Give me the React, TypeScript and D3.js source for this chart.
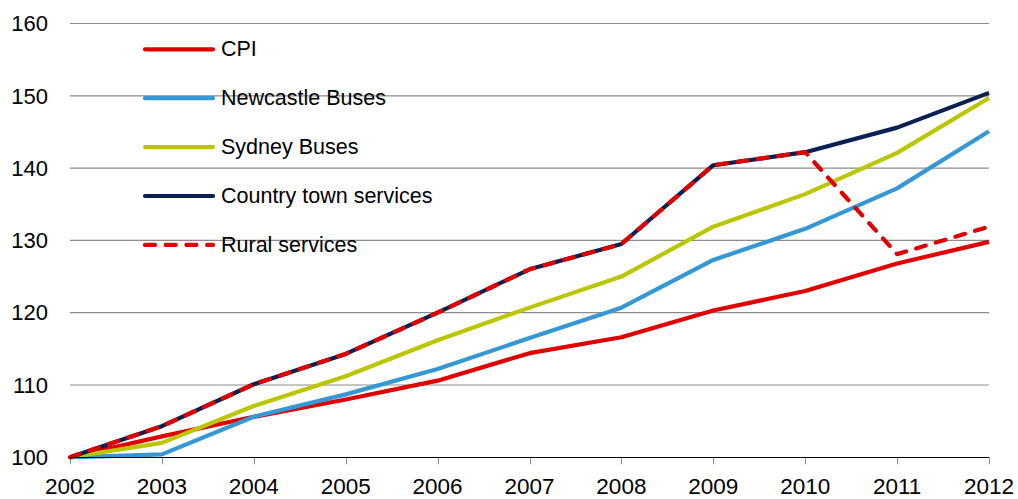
import React from "react";
import * as d3 from "d3";

const years = [2002, 2003, 2004, 2005, 2006, 2007, 2008, 2009, 2010, 2011, 2012];
const cpi = [100, 102.9, 105.6, 108.0, 110.6, 114.4, 116.6, 120.3, 123.0, 126.8, 129.8];
const newcastle = [100, 100.4, 105.6, 108.7, 112.2, 116.5, 120.7, 127.3, 131.6, 137.2, 145.1];
const sydney = [100, 102.0, 107.1, 111.2, 116.2, 120.7, 125.0, 131.9, 136.4, 142.1, 149.7];
const country = [100, 104.3, 110.1, 114.3, 120.0, 126.0, 129.5, 140.4, 142.2, 145.6, 150.4];
const rural = [100, 104.3, 110.1, 114.3, 120.0, 126.0, 129.5, 140.4, 142.2, 128.1, 131.9];
const yTicks = [100, 110, 120, 130, 140, 150, 160];

const series = [
  { name: "CPI", values: cpi, color: "#E00000", dash: false },
  { name: "Newcastle Buses", values: newcastle, color: "#3598D4", dash: false },
  { name: "Sydney Buses", values: sydney, color: "#BAC600", dash: false },
  { name: "Country town services", values: country, color: "#0B2050", dash: false },
  { name: "Rural services", values: rural, color: "#E00000", dash: true },
];

const W = 1018;
const H = 499;
const FONT = "Liberation Sans, Arial, sans-serif";

export default function App() {
  const x = d3.scaleLinear().domain([2002, 2012]).range([70, 989]);
  const y = d3.scaleLinear().domain([100, 160]).range([457.3, 23.5]);
  const line = d3
    .line<number>()
    .x((_, i) => x(years[i]))
    .y((d) => y(d));

  return (
    <svg
      width={W}
      height={H}
      style={{ position: "absolute", left: 0, top: 0, background: "#fff" }}
      fontFamily={FONT}
    >
      {yTicks.map((t) =>
        t === 100 ? null : (
          <line
            key={"g" + t}
            x1={x(2002)}
            x2={x(2012)}
            y1={y(t)}
            y2={y(t)}
            stroke="#8c8c8c"
            strokeWidth={1.2}
          />
        )
      )}
      {yTicks.map((t) => (
        <text
          key={"yl" + t}
          x={48}
          y={y(t)}
          dy="0.35em"
          textAnchor="end"
          fontSize={22}
          fill="#000"
        >
          {t}
        </text>
      ))}
      {years.map((yr) => (
        <line
          key={"t" + yr}
          x1={Math.round(x(yr)) + 0.5}
          x2={Math.round(x(yr)) + 0.5}
          y1={y(100)}
          y2={y(100) + 7}
          stroke="#8a8a8a"
          strokeWidth={1}
        />
      ))}
      {years.map((yr) => (
        <text
          key={"xl" + yr}
          x={x(yr)}
          y={494}
          textAnchor="middle"
          fontSize={22.5}
          fill="#000"
        >
          {yr}
        </text>
      ))}
      {series.map((s) => (
        <path
          key={s.name}
          d={line(s.values) || ""}
          fill="none"
          stroke={s.color}
          strokeWidth={4.2}
          strokeDasharray={s.dash ? "10,10.5" : undefined}
          strokeLinecap={s.dash ? "round" : "butt"}
          strokeLinejoin="round"
        />
      ))}
      <line
        x1={x(2002)}
        x2={x(2012)}
        y1={Math.round(y(100)) + 0.5}
        y2={Math.round(y(100)) + 0.5}
        stroke="#000"
        strokeWidth={1}
      />
      {series.map((s, i) => {
        const ly = 49.3 + i * 48.9;
        return (
          <g key={"lg" + s.name}>
            <line
              x1={145}
              x2={213}
              y1={ly}
              y2={ly}
              stroke={s.color}
              strokeWidth={4.2}
              strokeLinecap="round"
              strokeDasharray={s.dash ? "10,10.7" : undefined}
            />
            <text x={221} y={ly + 7} fontSize={21.5} fill="#000">
              {s.name}
            </text>
          </g>
        );
      })}
    </svg>
  );
}
